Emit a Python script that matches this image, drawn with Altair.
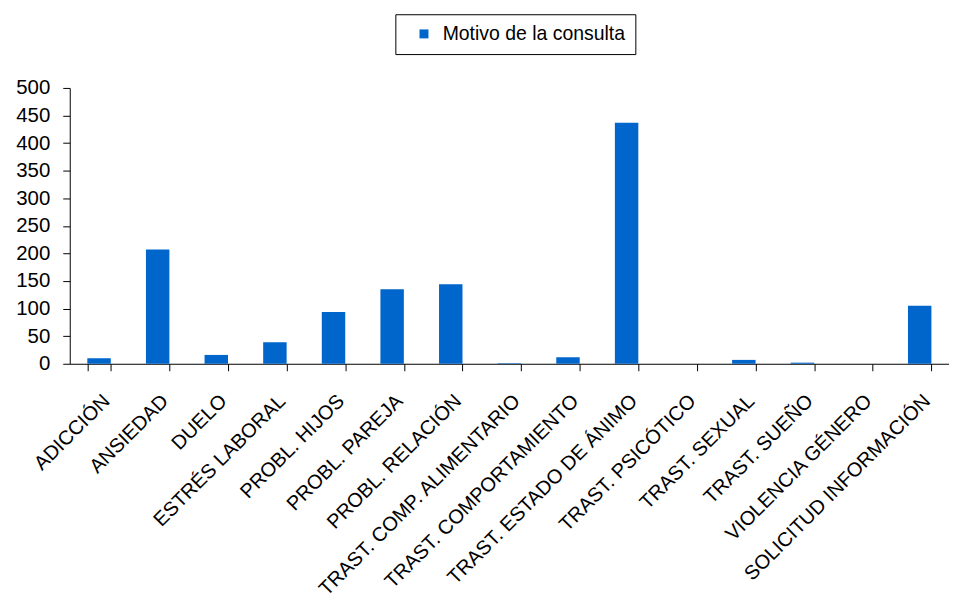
import altair as alt
import pandas as pd

categorias = [
    "ADICCIÓN", "ANSIEDAD", "DUELO", "ESTRÉS LABORAL", "PROBL. HIJOS",
    "PROBL. PAREJA", "PROBL. RELACIÓN", "TRAST. COMP. ALIMENTARIO",
    "TRAST. COMPORTAMIENTO", "TRAST. ESTADO DE ÁNIMO", "TRAST. PSICÓTICO",
    "TRAST. SEXUAL", "TRAST. SUEÑO", "VIOLENCIA  GÉNERO", "SOLICITUD  INFORMACIÓN",
]
valores = [10, 207, 16, 39, 94, 135, 144, 1, 12, 437, 0, 7, 2, 0, 105]
serie = "Motivo de la consulta"
y_ticks = [0, 50, 100, 150, 200, 250, 300, 350, 400, 450, 500]

df = pd.DataFrame({"cat": categorias, "val": valores, "serie": [serie] * len(categorias)})

FONT = "Liberation Sans"

chart = alt.Chart(df).mark_bar().encode(
    x=alt.X("cat:N", sort=categorias, title=None,
            scale=alt.Scale(paddingInner=0.6, paddingOuter=0.3),
            axis=alt.Axis(labelAngle=-45, labelFontSize=20, labelColor="#000000",
                          labelFont=FONT, tickBand="extent", tickSize=7,
                          tickColor="#000000", domainColor="#000000",
                          labelPadding=20, labelLimit=400)),
    y=alt.Y("val:Q", title=None,
            scale=alt.Scale(domain=[0, 500], nice=False),
            axis=alt.Axis(values=y_ticks, grid=False, labelFontSize=20.5,
                          labelColor="#000000", labelFont=FONT, tickSize=7,
                          tickColor="#000000", domainColor="#000000",
                          labelPadding=13)),
    color=alt.Color("serie:N", title=None,
                    scale=alt.Scale(range=["#0066CC"]),
                    legend=alt.Legend(orient="none", legendX=327, legendY=-74,
                                      strokeColor="#000000", padding=10,
                                      symbolType="square", symbolSize=81,
                                      symbolStrokeWidth=0, symbolOffset=9,
                                      labelFontSize=19.5, labelFont=FONT,
                                      labelColor="#000000", labelOffset=9,
                                      labelLimit=400)),
).properties(
    width=883, height=277,
    autosize=alt.AutoSizeParams(type="none"),
    padding={"left": 62, "top": 79, "right": 0, "bottom": 240},
).configure_view(stroke=None).configure_axis(domainWidth=1, tickWidth=1)

chart.save("out.html", embed_options={"renderer": "svg", "actions": False})
